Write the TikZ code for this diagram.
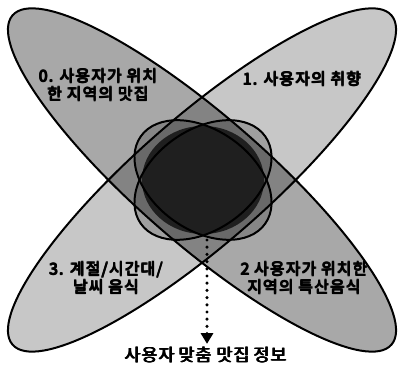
\documentclass[tikz,border=0pt]{standalone}
\usepackage{fontspec}
\newfontfamily\krfont{Noto Sans CJK KR}[LetterSpace=7]
\newfontfamily\krinfo{Noto Sans CJK KR}[LetterSpace=5]
\usetikzlibrary{arrows.meta, positioning, calc}
% overprinted text for a heavier stroke
\newcommand\heavy[1]{\leavevmode\rlap{#1}\rlap{\hspace{0.7pt}#1}\rlap{\raisebox{0.45pt}{#1}}\rlap{\hspace{0.7pt}\raisebox{0.45pt}{#1}}\hspace{0.7pt}\phantom{#1}}

\tikzset{
  outline/.style={draw=black, line width=1.5pt},
  lobelabel/.style={font=\krfont\fontsize{12}{13.5}\selectfont, align=center, inner sep=1pt},
  infolabel/.style={font=\krinfo\fontsize{13}{15}\selectfont, inner sep=0pt},
  dotline/.style={line width=2.6pt, line cap=round, dash pattern=on 0pt off 5.4pt}
}

\begin{document}
\begin{tikzpicture}[x=0.75pt, y=0.75pt]
\useasboundingbox (0,0) rectangle (398,366);
\coordinate (hub) at (202,186);
\coordinate (core) at (203,186);

% big petals
\fill[black, fill opacity=0.22, rotate around={41:(hub)}] (hub) ellipse [x radius=251, y radius=64];
\fill[black, fill opacity=0.34, rotate around={-41:(hub)}] (hub) ellipse [x radius=251, y radius=64];

% inner petals and core
\fill[black, fill opacity=0.2, rotate around={35:(core)}] (core) ellipse [x radius=76, y radius=50];
\fill[black, fill opacity=0.2, rotate around={-35:(core)}] (core) ellipse [x radius=76, y radius=50];
\fill[black!88] (core) ellipse [x radius=61, y radius=54];

% outlines
\draw[outline, rotate around={41:(hub)}] (hub) ellipse [x radius=251, y radius=64];
\draw[outline, rotate around={-41:(hub)}] (hub) ellipse [x radius=251, y radius=64];
\draw[outline, rotate around={35:(core)}] (core) ellipse [x radius=76, y radius=50];
\draw[outline, rotate around={-35:(core)}] (core) ellipse [x radius=76, y radius=50];

% labels
\node[lobelabel] (local) at (98,281) {\heavy{0. 사용자가 위치}\\\heavy{한 지역의 맛집}};
\node[lobelabel] (taste) at (302,287) {\heavy{1. 사용자의 취향}};
\node[lobelabel] (special) at (304,88) {\heavy{2 사용자가 위치한}\\\heavy{지역의 특산음식}};
\node[lobelabel] (season) at (106,88) {\heavy{3. 계절/시간대/}\\\heavy{날씨 음식}};
\node[infolabel] (info) at (206,11) {\heavy{사용자 맞춤 맛집 정보}};

% result arrow
\coordinate (drop) at (207,126);
\draw[dotline, -{Triangle[width=9pt, length=8pt]}] (drop) -- ([yshift=2pt]info.north -| drop);
\end{tikzpicture}
\end{document}
